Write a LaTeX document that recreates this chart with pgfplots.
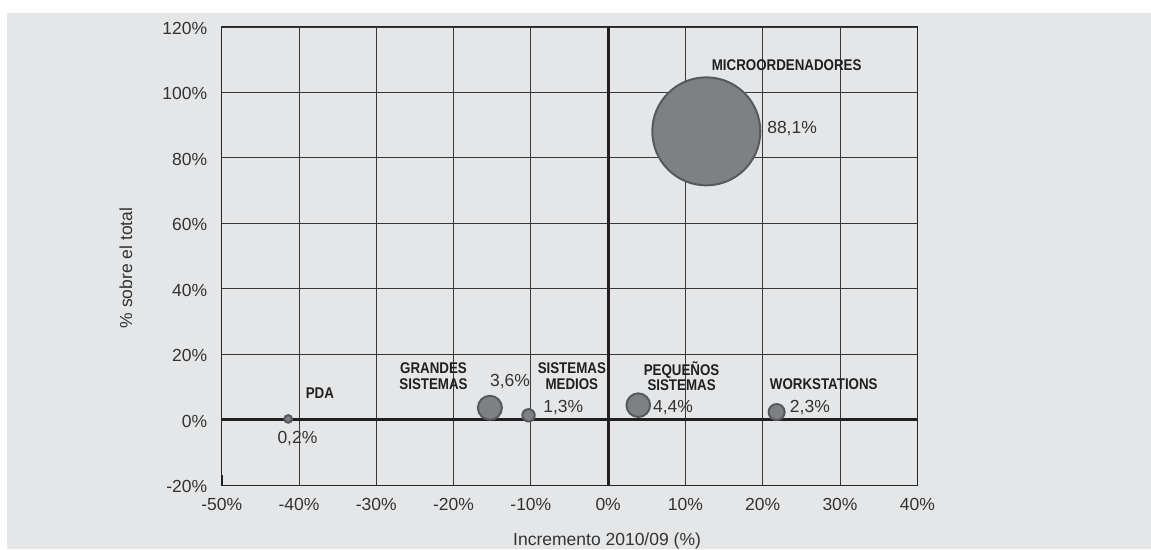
\documentclass[border=0pt]{standalone}
\usepackage{fontspec}
\setmainfont{Liberation Sans}
\newfontfamily\labfont[FakeStretch=0.86]{Liberation Sans}
\usepackage{pgfplots}
\pgfplotsset{compat=1.18}
\definecolor{bg}{HTML}{E5E6E8}
\definecolor{bubfill}{HTML}{7F8084}
\definecolor{bubedge}{HTML}{58595B}
\definecolor{txt}{HTML}{333333}
\definecolor{dark}{HTML}{231F20}
\newcommand{\lab}[1]{\labfont\bfseries\fontsize{15.5}{15.6}\selectfont #1}
\pgfplotsset{bub/.style={only marks, mark=*, mark options={draw=bubedge, fill=bubfill, line width=2pt}}}
\begin{document}
\begin{tikzpicture}
\fill[white] (0,0) rectangle (1151pt,549pt);
\fill[bg] (7pt,0) rectangle (1151pt,536pt);
\begin{axis}[
  at={(221.7pt,64pt)}, anchor=south west,
  scale only axis, width=695.6pt, height=458pt,
  xmin=-50, xmax=40, ymin=-20, ymax=120,
  xtick={-50,-40,...,40}, ytick={-20,0,...,120},
  xticklabels={-50\%,-40\%,-30\%,-20\%,-10\%,0\%,10\%,20\%,30\%,40\%},
  yticklabels={-20\%,0\%,20\%,40\%,60\%,80\%,100\%,120\%},
  major tick length=0pt,
  grid=major,
  major grid style={draw=black!78, line width=0.9pt},
  axis line style={draw=black!85, line width=1pt},
  tick label style={font=\fontsize{17.5}{20}\selectfont, text=txt},
  xticklabel style={yshift=-10pt},
  yticklabel style={xshift=-11pt, yshift=-1.5pt},
  xlabel={Incremento 2010/09 (\%)},
  ylabel={\% sobre el total},
  label style={font=\fontsize{17.5}{20}\selectfont, text=txt},
  x label style={at={(axis description cs:0.554,-0.123)}, anchor=center},
  y label style={at={(axis description cs:-0.1376,0.474)}, anchor=center},
  clip=false,
]
\draw[line width=3pt, dark] (axis cs:0,-20) -- (axis cs:0,120);
\draw[line width=3pt, dark] (axis cs:-50,0) -- (axis cs:40,0);
\draw[line width=2pt, dark] (axis cs:-50,-20) -- (axis cs:-50,-17);
\addplot[bub, mark size=3.8pt] coordinates {(-41.4,0.2)};
\addplot[bub, mark size=12pt] coordinates {(-15.3,3.6)};
\addplot[bub, mark size=6.2pt] coordinates {(-10.3,1.3)};
\addplot[bub, mark size=11.8pt] coordinates {(3.9,4.4)};
\addplot[bub, mark size=8pt] coordinates {(21.8,2.3)};
\addplot[bub, mark size=54pt] coordinates {(12.7,88.1)};
\node[font=\fontsize{17.5}{20}\selectfont, text=txt, inner sep=0pt] at (axis cs:-40.2,-5.7) {0,2\%};
\node[font=\fontsize{17.5}{20}\selectfont, text=txt, inner sep=0pt] at (axis cs:-12.7,11.6) {3,6\%};
\node[font=\fontsize{17.5}{20}\selectfont, text=txt, inner sep=0pt] at (axis cs:-5.8,3.6) {1,3\%};
\node[font=\fontsize{17.5}{20}\selectfont, text=txt, inner sep=0pt] at (axis cs:8.4,3.6) {4,4\%};
\node[font=\fontsize{17.5}{20}\selectfont, text=txt, inner sep=0pt] at (axis cs:26.1,3.6) {2,3\%};
\node[font=\fontsize{17.5}{20}\selectfont, text=txt, inner sep=0pt] at (axis cs:23.8,88.9) {88,1\%};
\node[font=\lab{}, text=dark, inner sep=0pt, align=center] at (axis cs:-37.3,8.0) {PDA};
\node[font=\lab{}, text=dark, inner sep=0pt, align=center] at (axis cs:-22.6,13.3) {GRANDES\\SISTEMAS};
\node[font=\lab{}, text=dark, inner sep=0pt, align=center] at (axis cs:-4.7,13.3) {SISTEMAS\\MEDIOS};
\node[font=\lab{}, text=dark, inner sep=0pt, align=center] at (axis cs:9.5,13.3) {PEQUEÑOS\\SISTEMAS};
\node[font=\lab{}, text=dark, inner sep=0pt, align=center] at (axis cs:27.9,10.9) {WORKSTATIONS};
\node[font=\lab{}, text=dark, inner sep=0pt, align=center] at (axis cs:23.1,108.4) {MICROORDENADORES};
\end{axis}
\pgfresetboundingbox
\path (0,0) rectangle (1151pt,549pt);
\end{tikzpicture}
\end{document}
